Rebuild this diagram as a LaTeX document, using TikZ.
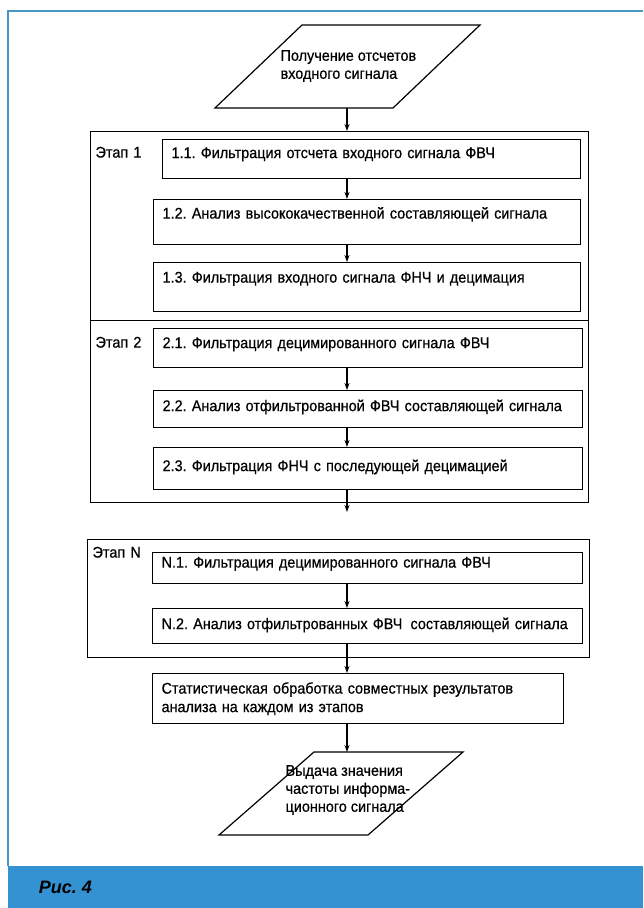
\documentclass[tikz,border=0pt]{standalone}
\usepackage{fontspec}
\setmainfont{Liberation Sans}
\newfontfamily\diagfont{Liberation Sans}[FakeBold=0.6,FakeStretch=0.93]
\usetikzlibrary{arrows.meta,positioning}

\definecolor{framecol}{RGB}{72,152,198}
\definecolor{barcol}{RGB}{52,146,210}

\frenchspacing
\begin{document}
\begin{tikzpicture}[x=1pt,y=-1pt,->,>={Stealth[length=7pt,width=5pt]},line width=1.2pt,
    font=\diagfont\fontsize{15.5}{18.5}\selectfont,
    stageframe/.style n args={3}{draw,-,anchor=north west,inner xsep=5pt,inner ysep=0pt,text width=#1,align=left,text height=#2,text depth=#3},
    stepbox/.style n args={3}{draw,-,anchor=north west,inner xsep=9pt,inner ysep=0pt,text width=#1,align=left,text height=#2,text depth=#3},
    iotext/.style={anchor=west,align=left,inner sep=0pt,font=\diagfont\fontsize{15.5}{18}\selectfont},
    ioshape/.style={draw,-,line join=miter}]

    \useasboundingbox (0,0) rectangle (643,908);
    \draw[-,framecol,line width=2pt] (8,866) -- (8,11) -- (643,11);
    \fill[barcol] (8,866) rectangle (643,908);
    \node[anchor=west,font=\fontsize{18}{20}\selectfont\bfseries\itshape] (caption) at (35,887) {Рис. 4};

    \coordinate (axis) at (347,0);

    \path[ioshape] (215,108) coordinate (pin-bl) -- (302,25) -- (480,25) -- (393,108) -- cycle;
    \node[iotext] (pin) at (280,66) {Получение отсчетов\\входного сигнала};

    \node[stageframe={488pt}{26pt}{163pt}] (etap1) at (90,131) {Этап 1};
    \node[stageframe={488pt}{27pt}{155pt}] (etap2) at (90,320) {Этап 2};
    \node[stageframe={492pt}{18pt}{100pt}] (etapN) at (87,539) {Этап N};

    \node[stepbox={400pt}{18.5pt}{20.5pt}] (b11) at (162,139) {1.1. Фильтрация отсчета входного сигнала ФВЧ};
    \node[stepbox={409pt}{19pt}{26pt}] (b12) at (153,199) {1.2. Анализ высококачественной составляющей сигнала};
    \node[stepbox={409pt}{20pt}{29pt}] (b13) at (153,262) {1.3. Фильтрация входного сигнала ФНЧ и децимация};

    \node[stepbox={411pt}{19.5pt}{19.5pt}] (b21) at (153,328) {2.1. Фильтрация децимированного сигнала ФВЧ};
    \node[stepbox={411pt}{20.5pt}{16.5pt}] (b22) at (153,390) {2.2. Анализ отфильтрованной ФВЧ составляющей сигнала};
    \node[stepbox={411pt}{23.5pt}{18.5pt}] (b23) at (153,447) {2.3. Фильтрация ФНЧ с последующей децимацией};
    \coordinate (gap) at (347,512);

    \node[stepbox={412pt}{15pt}{16pt}] (bN1) at (152,552) {N.1. Фильтрация децимированного сигнала ФВЧ};
    \node[stepbox={412pt}{20.5pt}{14.5pt}] (bN2) at (152,608) {N.2. Анализ отфильтрованных ФВЧ\hspace{3pt} составляющей сигнала};

    \node[stepbox={393pt}{20pt}{30pt}] (stat) at (152,673) {Статистическая обработка совместных результатов\\анализа на каждом из этапов};

    \path[ioshape] (219,835) -- (314,752) coordinate (pout-tl) -- (463,752) -- (368,835) -- cycle;
    \node[iotext] (pout) at (285,790) {Выдача значения\\частоты информа-\\ционного сигнала};

    \draw (axis |- pin-bl) -- (axis |- etap1.north);
    \draw (b11.south -| axis) -- (axis |- b12.north);
    \draw (b12.south -| axis) -- (axis |- b13.north);
    \draw (b21.south -| axis) -- (axis |- b22.north);
    \draw (b22.south -| axis) -- (axis |- b23.north);
    \draw (b23.south -| axis) -- (gap);
    \draw (bN1.south -| axis) -- (axis |- bN2.north);
    \draw (bN2.south -| axis) -- (axis |- stat.north);
    \draw (stat.south -| axis) -- (axis |- pout-tl);
\end{tikzpicture}
\end{document}
